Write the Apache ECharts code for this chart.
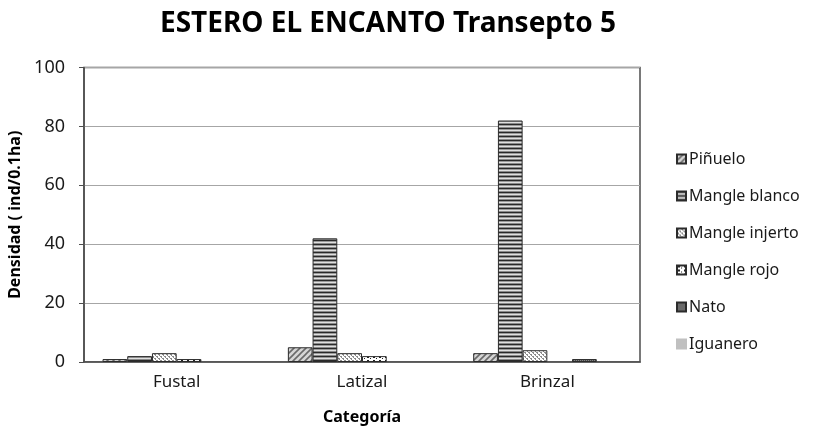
<!DOCTYPE html>
<html>
<head>
<meta charset="utf-8">
<script src="https://cdn.jsdelivr.net/npm/echarts@6/dist/echarts.min.js"></script>
<style>
  html, body { margin: 0; padding: 0; background: #fff; }
  #chart { width: 814px; height: 429px; }
</style>
</head>
<body>
<div id="chart"></div>
<script>
const categories = ["Fustal", "Latizal", "Brinzal"];
const seriesNames = ["Piñuelo", "Mangle blanco", "Mangle injerto", "Mangle rojo", "Nato", "Iguanero"];
const pinuelo = [1, 5, 3];
const mangleBlanco = [2, 42, 82];
const mangleInjerto = [3, 3, 4];
const mangleRojo = [1, 2, 0];
const nato = [0, 0, 1];
const iguanero = [0, 0, 0];
const yTicks = { min: 0, max: 100, interval: 20 };

const font = "'Noto Sans', 'DejaVu Sans', sans-serif";

// small canvas tiles used as bar fills
function tile(w, h, draw) {
  const c = document.createElement("canvas");
  c.width = w;
  c.height = h;
  draw(c.getContext("2d"));
  return { image: c, repeat: "repeat" };
}

const fills = [
  tile(6, 6, (g) => {
    g.fillStyle = "#d6d6d6";
    g.fillRect(0, 0, 6, 6);
    g.strokeStyle = "#6a6a6a";
    g.lineWidth = 1.6;
    g.beginPath();
    g.moveTo(-1, 7); g.lineTo(7, -1);
    g.moveTo(-4, 4); g.lineTo(4, -4);
    g.moveTo(2, 10); g.lineTo(10, 2);
    g.stroke();
  }),
  tile(1, 4, (g) => {
    const rows = ["#2a2a2a", "#9a9a9a", "#e0e0e0", "#8a8a8a"];
    rows.forEach((c, i) => { g.fillStyle = c; g.fillRect(0, i, 1, 1); });
  }),
  tile(4, 4, (g) => {
    g.fillStyle = "#ffffff";
    g.fillRect(0, 0, 4, 4);
    g.fillStyle = "#8c8c8c";
    g.fillRect(0, 0, 2, 1);
    g.fillRect(2, 2, 2, 1);
    g.fillRect(1, 1, 1, 1);
    g.fillRect(3, 3, 1, 1);
  }),
  tile(6, 4, (g) => {
    g.fillStyle = "#ffffff";
    g.fillRect(0, 0, 6, 4);
    g.fillStyle = "#222";
    g.fillRect(1, 0, 2, 2);
    g.fillRect(4, 2, 1, 1);
  }),
  tile(2, 2, (g) => {
    g.fillStyle = "#4a4a4a";
    g.fillRect(0, 0, 2, 2);
    g.fillStyle = "#8a8a8a";
    g.fillRect(0, 0, 1, 1);
    g.fillRect(1, 1, 1, 1);
  }),
  "#c0c0c0",
];

const values = [pinuelo, mangleBlanco, mangleInjerto, mangleRojo, nato, iguanero];

const chart = echarts.init(document.getElementById("chart"), null, { renderer: "canvas" });
chart.setOption({
  animation: false,
  textStyle: { fontFamily: font },
  title: {
    text: "ESTERO EL ENCANTO Transepto 5",
    left: 383,
    textAlign: "center",
    top: 5,
    textStyle: { fontSize: 28, fontWeight: "bold", color: "#000", fontFamily: font },
  },
  grid: {
    left: 84, right: 174, top: 67.5, bottom: 67,
    outerBoundsMode: "none",
    show: true, borderColor: "#4d4d4d", borderWidth: 1.5,
  },
  legend: {
    orient: "vertical",
    left: 671,
    top: 146,
    itemWidth: 9,
    itemHeight: 9,
    itemGap: 21,
    icon: "rect",
    textStyle: { fontSize: 16, color: "#1a1a1a", fontFamily: font, padding: [0, 0, 0, -2] },
    data: seriesNames,
  },
  xAxis: {
    type: "category",
    data: categories,
    axisLine: { lineStyle: { color: "#4d4d4d", width: 1.5 } },
    axisTick: { show: false },
    axisLabel: { fontSize: 17, color: "#1a1a1a", margin: 12 },
    name: "Categoría",
    nameLocation: "middle",
    nameGap: 47,
    nameTextStyle: { fontSize: 16, fontWeight: "bold", color: "#000" },
  },
  yAxis: {
    type: "value",
    min: yTicks.min,
    max: yTicks.max,
    interval: yTicks.interval,
    axisLine: { show: true, lineStyle: { color: "#4d4d4d", width: 1.5 } },
    axisTick: { show: true, length: 5, lineStyle: { color: "#4d4d4d" } },
    splitLine: { lineStyle: { color: "#a6a6a6", width: 1.2 } },
    axisLabel: { fontSize: 18, color: "#1a1a1a", margin: 19 },
    name: "Densidad ( ind/0.1ha)",
    nameLocation: "middle",
    nameRotate: 90,
    nameGap: 52,
    nameTextStyle: { fontSize: 16, fontWeight: "bold", color: "#000" },
  },
  series: seriesNames.map((name, i) => ({
    name,
    type: "bar",
    // zero values are not drawn in the original
    data: values[i].map((v) => (v === 0 ? null : v)),
    barGap: "0%",
    barCategoryGap: "20%",
    itemStyle: { color: fills[i], borderColor: i === 5 ? "#c0c0c0" : "#2b2b2b", borderWidth: 1 },
  })),
});
</script>
</body>
</html>
